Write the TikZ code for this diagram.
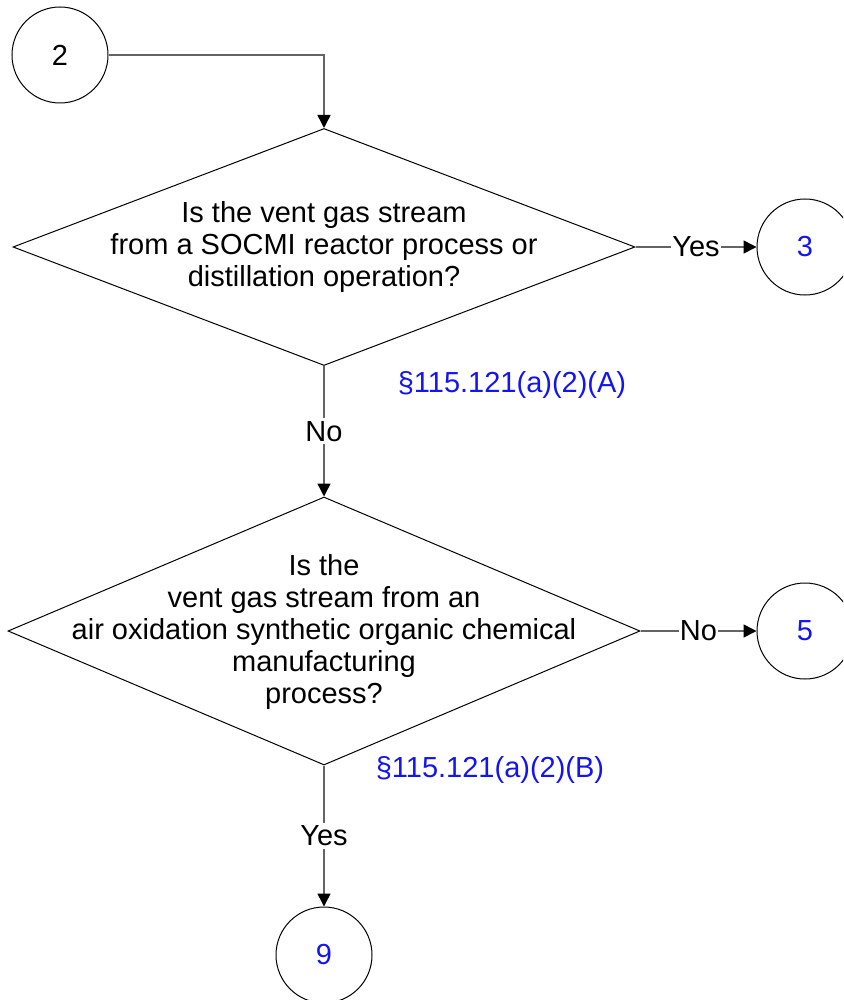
\documentclass[tikz,border=0pt]{standalone}
\usepackage{fontspec}
\setmainfont{Liberation Sans}
\usetikzlibrary{shapes.geometric,arrows.meta}
\definecolor{linkblue}{RGB}{20,20,240}
\definecolor{conngray}{RGB}{100,100,100}
\begin{document}
\begin{tikzpicture}[x=1pt,y=-1pt,
  txt/.style={font=\fontsize{29}{32}\selectfont, inner sep=0pt},
  dia/.style={diamond, draw=black, line width=1pt, inner sep=0pt},
  conn/.style={circle, draw=black, line width=1pt, minimum size=96pt, inner sep=0pt, font=\fontsize{29}{32}\selectfont},
  flow/.style={draw=conngray, line width=1.5pt, -{Triangle[length=13pt,width=13pt,fill=black,color=black]}},
  elabel/.style={txt, fill=white, inner xsep=1pt, inner ysep=3pt},
  ref/.style={txt, text=linkblue}
]
\useasboundingbox (0,0) rectangle (843,1000);
\clip (0,0) rectangle (843,1000);

% connector circles
\node[conn] (c2) at (60,55) {2};
\node[conn, text=linkblue] (c3) at (805,247) {3};
\node[conn, text=linkblue] (c5) at (805,631) {5};
\node[conn, text=linkblue] (c9) at (324,955) {9};

% decisions
\node[dia, minimum width=622pt, minimum height=237pt] (d1) at (324,247) {};
\node[txt, align=center] (t1) at (d1.center) {Is the vent gas stream\\from a SOCMI reactor process or\\distillation operation?};

\node[dia, minimum width=632pt, minimum height=268pt] (d2) at (324,631) {};
\node[txt, align=center] (t2) at (324,632) {Is the\\vent gas stream from an\\air oxidation synthetic organic chemical\\manufacturing\\process?};

% rule references
\node[ref] (r1) at (512,385) {§115.121(a)(2)(A)};
\node[ref] (r2) at (490,770) {§115.121(a)(2)(B)};

% flows
\draw[flow] (c2.east) -| (d1.north);
\draw[flow] (d1.east) -- node[elabel] (y1) {Yes} (c3.west);
\draw[flow] (d1.south) -- node[elabel] (n1) {No} (d2.north);
\draw[flow] (d2.east) -- node[elabel] (n2) {No} (c5.west);
\draw[flow] (d2.south) -- node[elabel] (y2) {Yes} (c9.north);
\end{tikzpicture}
\end{document}
